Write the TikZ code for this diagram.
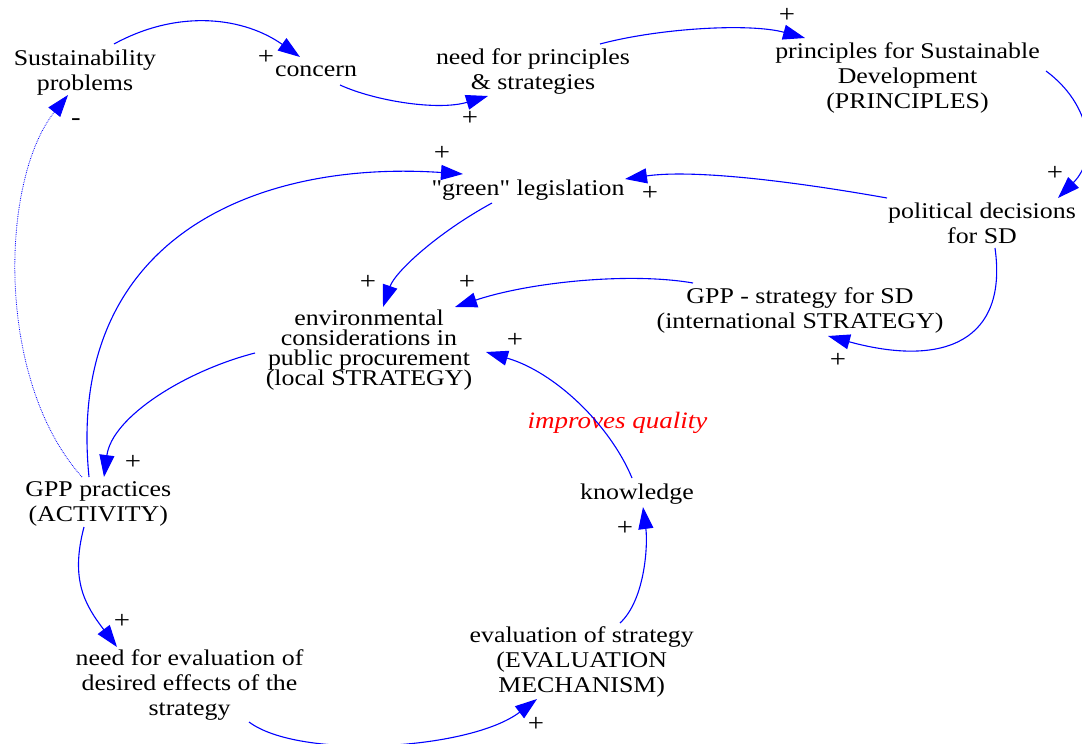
\documentclass[tikz,border=0pt]{standalone}
\usepackage{fontspec}
\setmainfont{Liberation Serif}[FakeStretch=1.15,Ligatures=TeXOff]
\usetikzlibrary{arrows.meta,calc}
\setlength{\lineskiplimit}{-50pt}
\tikzset{
  var/.style={align=center, inner sep=0pt, font=\fontsize{22.5}{25}\selectfont},
  tight/.style={font=\fontsize{22.5}{20}\selectfont},
  sign/.style={inner sep=0pt, font=\fontsize{25}{25}\selectfont},
  note/.style={inner sep=0pt, text=red, font=\fontsize{23.5}{25}\selectfont\itshape},
  link/.style={draw=blue, line width=1.1pt, -{Triangle[length=22pt,width=15pt]}},
  dotlink/.style={draw=blue, line width=0.8pt, densely dotted, -{Triangle[length=22pt,width=15pt]}}
}
\begin{document}
\begin{tikzpicture}[x=1pt,y=-1pt]
\useasboundingbox[fill=white] (0,0) rectangle (1082,744);

% variables
\node[var] (sus)  at (85,72.5)    {Sustainability\\problems};
\node[var] (con)  at (316,71.5)   {concern};
\node[var] (nfp)  at (533,71.7)   {need for principles\\\& strategies};
\node[var] (prin) at (907.5,77.7) {principles for Sustainable\\Development\\(PRINCIPLES)};
\node[var] (green) at (528,189.75) {"green" legislation};
\node[var] (pol)  at (982,223)    {political decisions\\for SD};
\node[var,tight] (env) at (369,350) {environmental\\considerations in\\public procurement\\(local STRATEGY)};
\node[var] (gpps) at (800,310.5)  {GPP - strategy for SD\\(international STRATEGY)};
\node[var] (know) at (637,494)    {knowledge};
\node[var] (gppa) at (98.3,504.2) {GPP practices\\(ACTIVITY)};
\node[var] (nfe)  at (189.5,685)  {need for evaluation of\\desired effects of the\\strategy};
\node[var] (eval) at (581.7,662)  {evaluation of strategy\\(EVALUATION\\MECHANISM)};
\node[note] (iq)  at (617.5,423)  {improves quality};

% links
\draw[link] ($(sus)+(29,-28.5)$) .. controls (180,8) and (245,18) .. ($(con)+(-16,-14.5)$);
\draw[link] ($(con)+(24,13.5)$) .. controls (375,101) and (438,111) .. ($(nfp)+(-45,24.3)$);
\draw[link] ($(nfp)+(67,-27.7)$) .. controls (660,28) and (750,23) .. ($(prin)+(-102.5,-39.7)$);
\draw[link] ($(prin)+(138.5,-6.7)$) .. controls (1092,105) and (1098,158) .. ($(pol)+(76,-25)$);
\draw[link] ($(pol)+(-95,-25)$) .. controls (797,182) and (695,169) .. ($(green)+(97,-10.75)$);
\draw[link] ($(pol)+(13,25)$) .. controls (1008,340) and (945,368) .. ($(gpps)+(28,25.5)$);
\draw[link] ($(gpps)+(-107,-27.5)$) .. controls (630,272) and (530,282) .. ($(env)+(86,-43)$);
\draw[link] ($(green)+(-36,13.25)$) .. controls (437,233) and (395,272) .. ($(env)+(14,-43)$);
\draw[link] ($(env)+(-114,3)$) .. controls (185,371) and (112,417) .. ($(gppa)+(5.7,-27.2)$);
\draw[link] ($(gppa)+(-9.3,-27.2)$) .. controls (65,235) and (260,160) .. ($(green)+(-65,-15.75)$);
\draw[dotlink] ($(gppa)+(-16.3,-27.2)$) .. controls (-5,380) and (0,180) .. ($(sus)+(-17,22.5)$);
\draw[link] ($(gppa)+(-14.3,22.8)$) .. controls (70,580) and (85,605) .. ($(nfe)+(-72.5,-38)$);
\draw[link] ($(nfe)+(59.5,37)$) .. controls (300,760) and (470,750) .. ($(eval)+(-44.7,37)$);
\draw[link] ($(eval)+(38.3,-39)$) .. controls (645,600) and (648,545) .. ($(know)+(6,13)$);
\draw[link] ($(know)+(-5,-16)$) .. controls (610,425) and (555,372) .. ($(env)+(117,2)$);

% polarities
\node[sign] (p1)  at (266,57.3) {+};
\node[sign] (p2)  at (470,118) {+};
\node[sign] (p3)  at (787,15) {+};
\node[sign] (p4)  at (1055,173) {+};
\node[sign] (p5)  at (650,193) {+};
\node[sign] (p6)  at (838,360) {+};
\node[sign] (p7)  at (467,282) {+};
\node[sign] (p8)  at (368,282) {+};
\node[sign] (p9)  at (133,462) {+};
\node[sign] (p10) at (442,153) {+};
\node[sign] (m11) at (76,122) {-};
\node[sign] (p12) at (122,621) {+};
\node[sign] (p13) at (536,724) {+};
\node[sign] (p14) at (625,528) {+};
\node[sign] (p15) at (515,340) {+};
\end{tikzpicture}
\end{document}
